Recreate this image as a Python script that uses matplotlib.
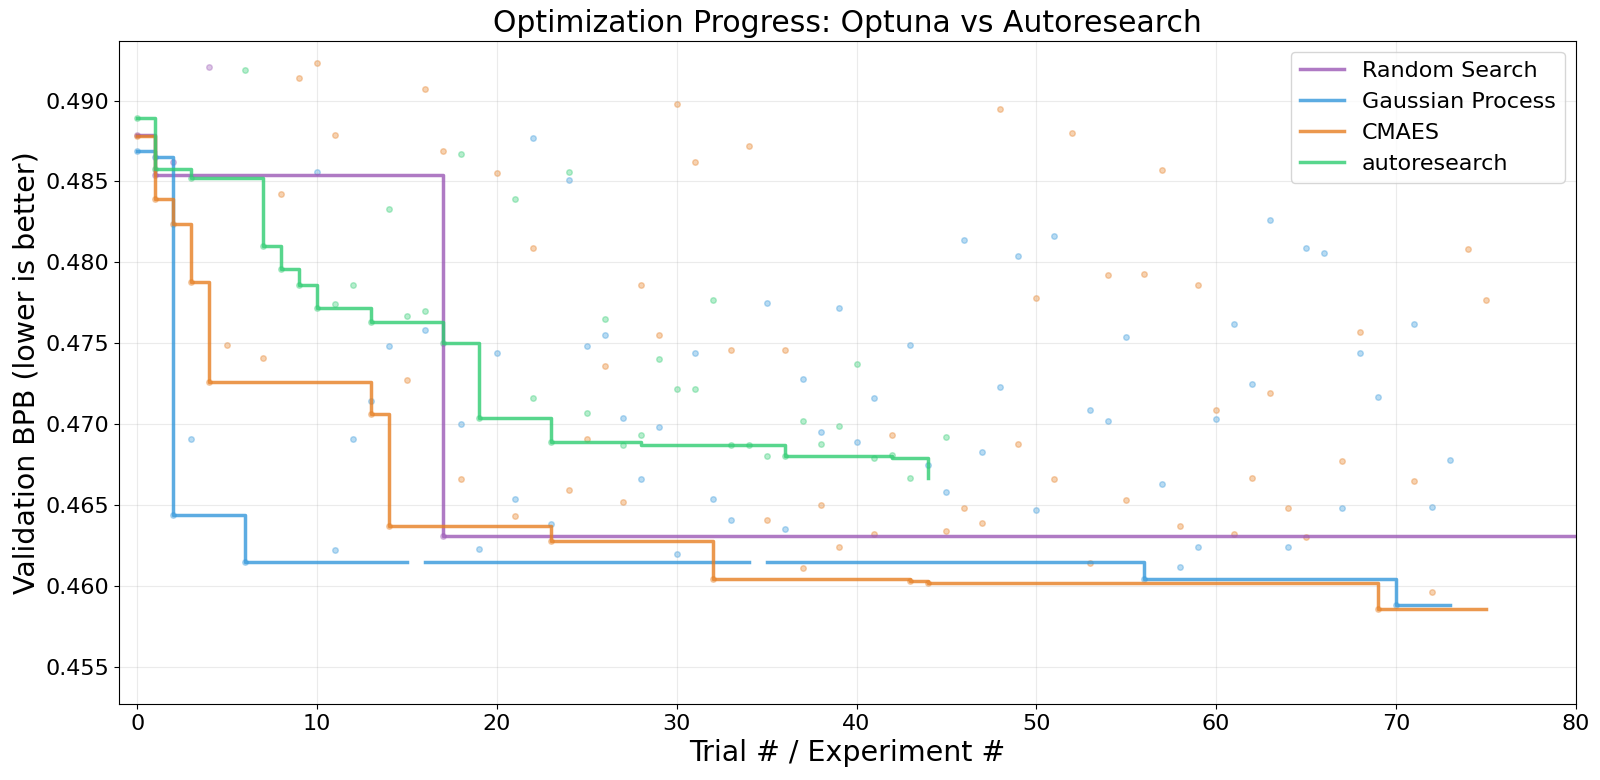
import numpy as np
import matplotlib
matplotlib.use('Agg')
import matplotlib.pyplot as plt

nan = np.nan

# ---- trial values (scatter) ----
rs_x = [0, 1, 2, 4, 17]
rs_y = [0.4879, 0.4854, 0.4862, 0.4921, 0.4631]

gp_x = [0, 1, 2, 3, 6, 10, 11, 12, 13, 14, 16, 18, 19, 20, 21, 22, 23, 24, 25,
        26, 27, 28, 29, 30, 31, 32, 33, 35, 36, 37, 38, 39, 40, 41, 43, 44, 45,
        46, 47, 48, 49, 50, 51, 53, 54, 55, 56, 57, 58, 59, 60, 61, 62, 63, 64,
        65, 66, 67, 68, 69, 70, 71, 72, 73]
gp_y = [0.4869, 0.4865, 0.4644, 0.4691, 0.4615, 0.4856, 0.4622, 0.4691, 0.4714,
        0.4748, 0.4758, 0.4700, 0.4623, 0.4744, 0.4654, 0.4877, 0.4638, 0.4851,
        0.4748, 0.4755, 0.4704, 0.4666, 0.4698, 0.4620, 0.4744, 0.4654, 0.4641,
        0.4775, 0.4635, 0.4728, 0.4695, 0.4772, 0.4689, 0.4716, 0.4749, 0.4675,
        0.4658, 0.4814, 0.4683, 0.4723, 0.4804, 0.4647, 0.4816, 0.4709, 0.4702,
        0.4754, 0.4604, 0.4663, 0.4612, 0.4624, 0.4703, 0.4762, 0.4725, 0.4826,
        0.4624, 0.4809, 0.4806, 0.4648, 0.4744, 0.4717, 0.4588, 0.4762, 0.4649,
        0.4678]

cma_x = [0, 1, 2, 3, 4, 5, 7, 8, 9, 10, 11, 13, 14, 15, 16, 17, 18, 20, 21, 22,
         23, 24, 25, 26, 27, 28, 29, 30, 31, 32, 33, 34, 35, 36, 37, 38, 39, 41,
         42, 43, 44, 45, 46, 47, 48, 49, 50, 51, 52, 53, 54, 55, 56, 57, 58, 59,
         60, 61, 62, 63, 64, 65, 67, 68, 69, 71, 72, 74, 75]
cma_y = [0.4878, 0.4839, 0.4824, 0.4788, 0.4726, 0.4749, 0.4741, 0.4842, 0.4914,
         0.4923, 0.4879, 0.4706, 0.4637, 0.4727, 0.4907, 0.4869, 0.4666, 0.4855,
         0.4643, 0.4809, 0.4628, 0.4659, 0.4691, 0.4736, 0.4652, 0.4786, 0.4755,
         0.4898, 0.4862, 0.4604, 0.4746, 0.4872, 0.4641, 0.4746, 0.4611, 0.4650,
         0.4624, 0.4632, 0.4693, 0.4603, 0.4602, 0.4634, 0.4648, 0.4639, 0.4895,
         0.4688, 0.4778, 0.4666, 0.4880, 0.4614, 0.4792, 0.4653, 0.4793, 0.4857,
         0.4637, 0.4786, 0.4709, 0.4632, 0.4667, 0.4719, 0.4648, 0.4630, 0.4677,
         0.4757, 0.4586, 0.4665, 0.4596, 0.4808, 0.4777]

ar_x = [0, 1, 3, 6, 7, 8, 9, 10, 11, 12, 13, 14, 15, 16, 17, 18, 19, 21, 22, 23,
        24, 25, 26, 27, 28, 29, 30, 31, 32, 33, 34, 35, 36, 37, 38, 39, 40, 41,
        42, 43, 45]
ar_y = [0.4889, 0.4858, 0.4852, 0.4919, 0.4810, 0.4796, 0.4786, 0.4772, 0.4774,
        0.4786, 0.4763, 0.4833, 0.4767, 0.4770, 0.4750, 0.4867, 0.4704, 0.4839,
        0.4716, 0.4689, 0.4856, 0.4707, 0.4765, 0.4687, 0.4693, 0.4740, 0.4722,
        0.4722, 0.4777, 0.4687, 0.4687, 0.4680, 0.4680, 0.4702, 0.4688, 0.4699,
        0.4737, 0.4679, 0.4681, 0.4667, 0.4692]

# ---- best-so-far step lines ----
rs_best_x = [0, 1, 17, 99]
rs_best_y = [0.4879, 0.4854, 0.4631, 0.4631]

gp_best_x = [0, 1, 2, 6, 15, 16, 34, 35, 56, 70, 73]
gp_best_y = [0.4869, 0.4865, 0.4644, 0.4615, nan, 0.4615, nan, 0.4615, 0.4604,
             0.4588, 0.4588]

cma_best_x = [0, 1, 2, 3, 4, 13, 14, 23, 32, 43, 44, 69, 75]
cma_best_y = [0.4878, 0.4839, 0.4824, 0.4788, 0.4726, 0.4706, 0.4637, 0.4628,
              0.4604, 0.4603, 0.4602, 0.4586, 0.4586]

ar_best_x = [0, 1, 3, 7, 8, 9, 10, 13, 17, 19, 23, 28, 36, 42, 44]
ar_best_y = [0.4889, 0.4858, 0.4852, 0.4810, 0.4796, 0.4786, 0.4772, 0.4763,
             0.4750, 0.4704, 0.4689, 0.4687, 0.4680, 0.4679, 0.4667]

methods = [
    ('Random Search', '#9b59b6', rs_x, rs_y, rs_best_x, rs_best_y),
    ('Gaussian Process', '#3498db', gp_x, gp_y, gp_best_x, gp_best_y),
    ('CMAES', '#e67e22', cma_x, cma_y, cma_best_x, cma_best_y),
    ('autoresearch', '#2ecc71', ar_x, ar_y, ar_best_x, ar_best_y),
]

fig, ax = plt.subplots(figsize=(16, 7.8), dpi=100)
fig.subplots_adjust(left=0.0746, right=0.9848, top=0.9478, bottom=0.0974)

for name, c, tx, ty, bx, by in methods:
    ax.scatter(tx, ty, s=16, color=c, alpha=0.35)
    ax.step(bx, by, where='post', color=c, lw=2.5, alpha=0.8, label=name)

ax.set_xlim(-1, 80)
ax.set_ylim(0.4527, 0.4937)
ax.set_xlabel('Trial # / Experiment #', fontsize=20.5)
ax.set_ylabel('Validation BPB (lower is better)', fontsize=20.5)
ax.set_title('Optimization Progress: Optuna vs Autoresearch', fontsize=21.5)
ax.tick_params(labelsize=16)
ax.grid(True, alpha=0.25)
ax.legend(loc='upper right', fontsize=16)

fig.savefig('out.png', dpi=100)
